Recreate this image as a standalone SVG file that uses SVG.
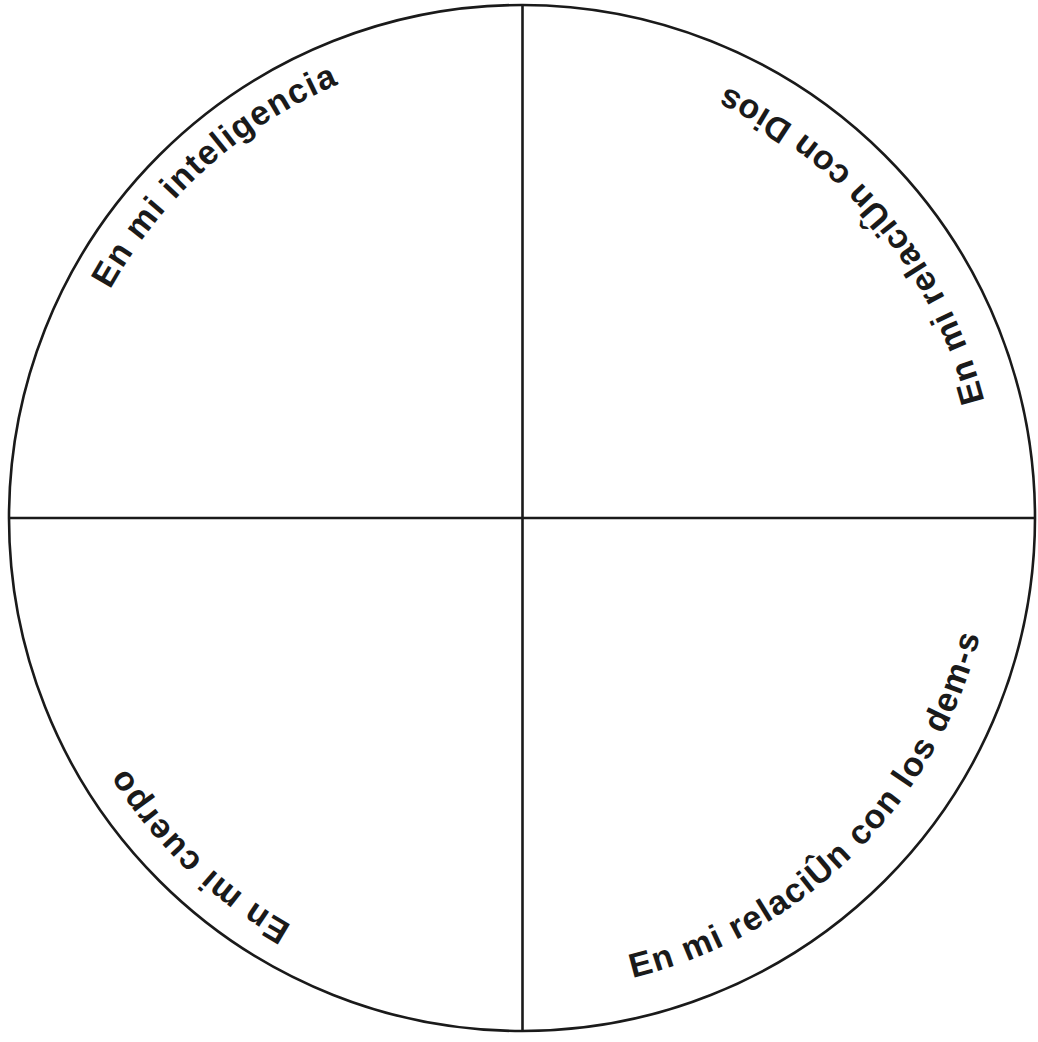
<svg xmlns="http://www.w3.org/2000/svg" xmlns:xlink="http://www.w3.org/1999/xlink" width="1038" height="1042" viewBox="0 0 1038 1042">
<style>
.ln{stroke:#1a1a1a;stroke-width:2.6;fill:none}
.lbl{font-family:"Liberation Sans",Arial,sans-serif;font-weight:bold;font-size:34px;letter-spacing:1.4px;fill:#1a1a1a}
</style>
<defs>
<path id="pTL" d="M110.1,289.7 A471,471 0 0 1 750.3,106.1"/>
<path id="pBL" d="M291.6,925.3 A468,468 0 0 1 114.7,287.6"/>
<path id="pTR" d="M984.4,401.0 A477,477 0 0 0 405.0,55.6"/>
<path id="pBR" d="M632.4,977.9 A473,473 0 0 0 981.9,407.6"/>
</defs>
<rect width="1038" height="1042" fill="#ffffff"/>
<g id="connectors">
<circle class="ln" cx="522" cy="518" r="513"/>
<line class="ln" x1="522.5" y1="5" x2="522.5" y2="1031"/>
<line class="ln" x1="9" y1="518" x2="1035" y2="518"/>
</g>
<g id="inteligencia"><text class="lbl"><textPath xlink:href="#pTL" href="#pTL">En mi inteligencia</textPath></text></g>
<g id="dios"><text class="lbl"><textPath xlink:href="#pTR" href="#pTR">En mi relaciÛn con Dios</textPath></text></g>
<g id="cuerpo"><text class="lbl"><textPath xlink:href="#pBL" href="#pBL">En mi cuerpo</textPath></text></g>
<g id="demas"><text class="lbl"><textPath xlink:href="#pBR" href="#pBR">En mi relaciÛn con los dem-s</textPath></text></g>
</svg>
